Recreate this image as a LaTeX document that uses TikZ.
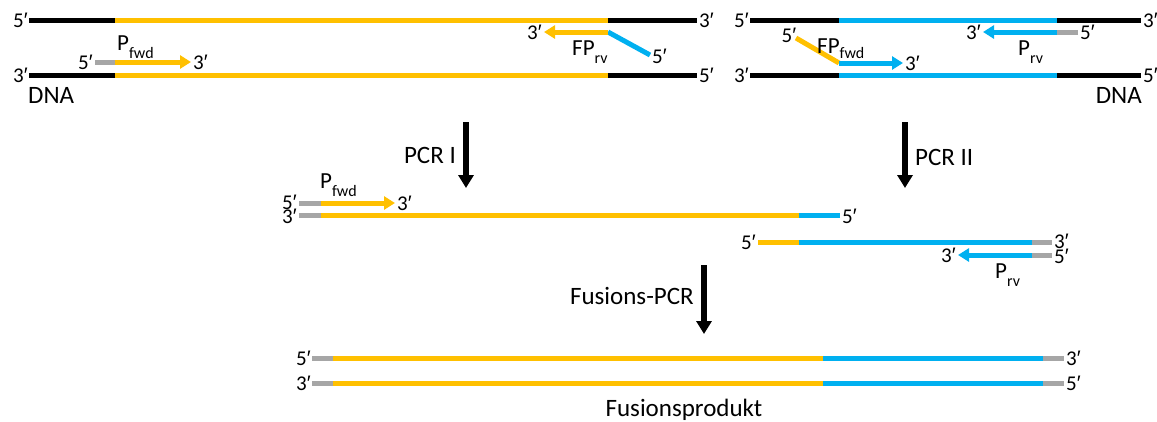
\documentclass[tikz,border=0pt]{standalone}
\usepackage{fontspec}
\setmainfont{Carlito}
\newfontfamily\primefont{Liberation Sans}
\usetikzlibrary{arrows.meta}
\definecolor{gold}{HTML}{FFC000}
\definecolor{sky}{HTML}{00B0F0}
\definecolor{grey}{HTML}{A6A6A6}
% strand end mark: digit followed by a prime
\newcommand{\tick}{{\primefont ′}}
% primer name with subscript; optional argument sets how far the subscript drops
\newcommand{\primer}[3][8pt]{{\fontsize{23}{23}\selectfont #2}\raisebox{-#1}{\fontsize{16}{16}\selectfont #3}}
\tikzset{
  strand/.style={line width=5pt, line cap=butt},
  blk/.style={strand, black},
  yel/.style={strand, gold},
  blu/.style={strand, sky},
  gry/.style={strand, grey},
  tip/.style={-{Triangle[length=11pt,width=13pt]}},
  endlab/.style={font=\fontsize{21}{21}\selectfont, inner sep=0pt},
  title/.style={font=\fontsize{25}{25}\selectfont, inner sep=0pt},
  plab/.style={inner sep=0pt, anchor=base west},
  step arrow/.style={line width=6pt, -{Triangle[length=13pt,width=15pt]}},
}
\begin{document}
\begin{tikzpicture}[x=1pt, y=-1pt]
\useasboundingbox (0,0) rectangle (1157,421);

% ---------- template 1 (gold gene) ----------
\draw[blk] (29,20) -- (115,20);
\draw[yel] (115,20) -- (608,20);
\draw[blk] (608,20) -- (697,20);
\draw[blk] (29,75) -- (115,75);
\draw[yel] (115,75) -- (608,75);
\draw[blk] (608,75) -- (697,75);
\node[endlab, anchor=east] (a5t) at (28,20) {5\tick};
\node[endlab, anchor=west] (a3t) at (699,20) {3\tick};
\node[endlab, anchor=east] (a3b) at (28,75) {3\tick};
\node[endlab, anchor=west] (a5b) at (699,75) {5\tick};
\node[title, anchor=west] (dnaA) at (28,95) {DNA};

% forward primer
\coordinate (pf0) at (95,62);
\coordinate (pf1) at (115,62);
\coordinate (pf2) at (191,62);
\draw[gry] (pf0) -- (pf1);
\draw[yel, tip] (pf1) -- (pf2);
\node[endlab, anchor=east] (pf5) at (93,62) {5\tick};
\node[endlab, anchor=west] (pf3) at (193,62) {3\tick};
\node[plab] (pfl) at (117,50) {\primer{P}{fwd}};

% fusion primer, reverse
\coordinate (fr0) at (650,55);
\coordinate (fr1) at (608,32);
\coordinate (fr2) at (544,32);
\draw[blu] (fr0) -- (fr1);
\draw[yel, tip] (fr1) -- (fr2);
\node[endlab, anchor=east] (fr3) at (542,32) {3\tick};
\node[endlab, anchor=west] (fr5) at (652,56) {5\tick};
\node[plab] (frl) at (572,55) {\primer{FP}{rv}};

% ---------- template 2 (blue gene) ----------
\draw[blk] (750,20) -- (839,20);
\draw[blu] (839,20) -- (1057,20);
\draw[blk] (1057,20) -- (1141,20);
\draw[blk] (750,75) -- (839,75);
\draw[blu] (839,75) -- (1057,75);
\draw[blk] (1057,75) -- (1141,75);
\node[endlab, anchor=east] (b5t) at (749,20) {5\tick};
\node[endlab, anchor=west] (b3t) at (1143,20) {3\tick};
\node[endlab, anchor=east] (b3b) at (749,75) {3\tick};
\node[endlab, anchor=west] (b5b) at (1143,75) {5\tick};
\node[title, anchor=east] (dnaB) at (1142,95) {DNA};

% fusion primer, forward
\coordinate (ff0) at (796,38);
\coordinate (ff1) at (839,63);
\coordinate (ff2) at (903,63);
\draw[yel] (ff0) -- (ff1);
\draw[blu, tip] (ff1) -- (ff2);
\node[endlab] (ff5) at (789,35) {5\tick};
\node[endlab, anchor=west] (ff3) at (905,63) {3\tick};
\node[plab] (ffl) at (817,53) {\primer[5pt]{FP}{fwd}};

% reverse primer
\coordinate (pr0) at (1078,32);
\coordinate (pr1) at (1057,32);
\coordinate (pr2) at (983,32);
\draw[gry] (pr0) -- (pr1);
\draw[blu, tip] (pr1) -- (pr2);
\node[endlab, anchor=east] (pr3) at (981,32) {3\tick};
\node[endlab, anchor=west] (pr5) at (1080,32) {5\tick};
\node[plab] (prl) at (1018,55) {\primer{P}{rv}};

% ---------- PCR steps ----------
\coordinate (s1a) at (466,122);
\coordinate (s1b) at (466,188);
\draw[step arrow] (s1a) -- (s1b);
\node[title, anchor=east] (pcr1) at (456,155) {PCR I};

\coordinate (s2a) at (905,122);
\coordinate (s2b) at (905,188);
\draw[step arrow] (s2a) -- (s2b);
\node[title, anchor=west] (pcr2) at (915,157) {PCR II};

% product of PCR I
\draw[gry] (299,203) -- (321,203);
\draw[yel, tip] (321,203) -- (395,203);
\node[endlab, anchor=east] (m5a) at (297,202) {5\tick};
\node[endlab, anchor=west] (m3a) at (397,203) {3\tick};
\node[plab] (mpf) at (320,188) {\primer{P}{fwd}};
\draw[gry] (299,215) -- (321,215);
\draw[yel] (321,215) -- (799,215);
\draw[blu] (799,215) -- (840,215);
\node[endlab, anchor=east] (m3b) at (297,216) {3\tick};
\node[endlab, anchor=west] (m5b) at (842,216) {5\tick};

% product of PCR II
\draw[yel] (758,242) -- (799,242);
\draw[blu] (799,242) -- (1032,242);
\draw[gry] (1032,242) -- (1052,242);
\node[endlab, anchor=east] (n5a) at (756,242) {5\tick};
\node[endlab, anchor=west] (n3a) at (1054,241) {3\tick};
\draw[gry] (1052,255) -- (1032,255);
\draw[blu, tip] (1032,255) -- (958,255);
\node[endlab, anchor=east] (n3b) at (956,255) {3\tick};
\node[endlab, anchor=west] (n5b) at (1054,256) {5\tick};
\node[plab] (npr) at (995,278) {\primer{P}{rv}};

% ---------- fusion PCR ----------
\coordinate (s3a) at (704,265);
\coordinate (s3b) at (704,334);
\draw[step arrow] (s3a) -- (s3b);
\node[title, anchor=east] (fpcr) at (694,296) {Fusions-PCR};

\draw[gry] (312,358) -- (333,358);
\draw[yel] (333,358) -- (823,358);
\draw[blu] (823,358) -- (1043,358);
\draw[gry] (1043,358) -- (1064,358);
\draw[gry] (312,383) -- (333,383);
\draw[yel] (333,383) -- (823,383);
\draw[blu] (823,383) -- (1043,383);
\draw[gry] (1043,383) -- (1064,383);
\node[endlab, anchor=east] (f5a) at (311,358) {5\tick};
\node[endlab, anchor=west] (f3a) at (1066,358) {3\tick};
\node[endlab, anchor=east] (f3b) at (311,383) {3\tick};
\node[endlab, anchor=west] (f5b) at (1066,383) {5\tick};
\node[title] (prod) at (684,410) {Fusionsprodukt};
\end{tikzpicture}
\end{document}
